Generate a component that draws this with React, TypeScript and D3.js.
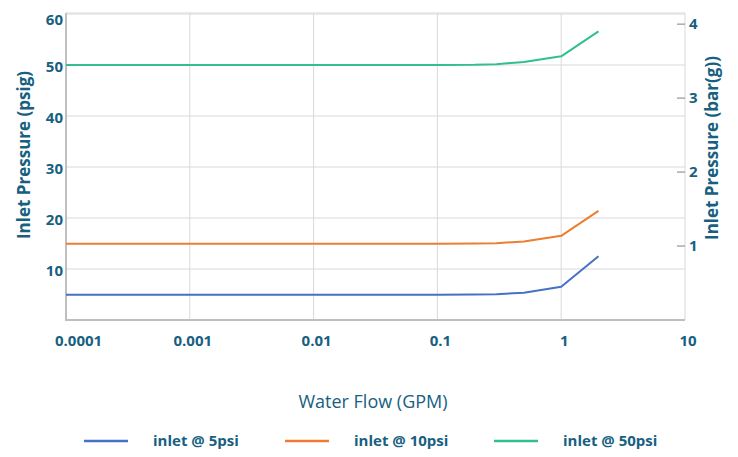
import * as d3 from "d3";

const flows = [0.0001, 0.001, 0.01, 0.1, 0.2, 0.3, 0.5, 1, 2];
const inlet5 = [4.95, 4.95, 4.95, 4.95, 4.98, 5.05, 5.35, 6.5, 12.5];
const inlet10 = [14.95, 14.95, 14.95, 14.95, 14.98, 15.05, 15.4, 16.5, 21.4];
const inlet50 = [50.0, 50.0, 50.0, 50.0, 50.03, 50.15, 50.6, 51.7, 56.6];

const seriesNames = ["inlet @ 5psi", "inlet @ 10psi", "inlet @ 50psi"];
const seriesColors = ["#4472C4", "#ED7D31", "#33BF8C"];
const xTicks = [0.0001, 0.001, 0.01, 0.1, 1, 10];
const xTickLabels = ["0.0001", "0.001", "0.01", "0.1", "1", "10"];
const psiTicks = [10, 20, 30, 40, 50, 60];
const barTicks = [1, 2, 3, 4];
const PSI_PER_BAR = 14.5038;

const textColor = "#17607f";
const font = "'Open Sans', Lato, sans-serif";

function App() {
  const width = 738;
  const height = 457;
  const left = 66, right = 685, top = 13, bottom = 320;

  const x = d3.scaleLog().domain([0.0001, 10]).range([left, right]);
  const y = d3.scaleLinear().domain([0, 60]).range([bottom, top + 1]);
  const yBar = (b: number) => y(b * PSI_PER_BAR);

  const all = [inlet5, inlet10, inlet50];
  const line = d3
    .line<number>()
    .x((_, i) => x(flows[i]))
    .y((d) => y(d));

  const legendX = [84, 285, 494];

  return (
    <svg width={width} height={height} style={{ position: "absolute", left: 0, top: 0 }}>
      <rect width={width} height={height} fill="white" />
      {/* grid */}
      {psiTicks.map((t) => (
        <line key={"h" + t} x1={left} x2={right} y1={y(t)} y2={y(t)} stroke="#d9d9d9" strokeWidth={1} />
      ))}
      {xTicks.slice(1, -1).map((t) => (
        <line key={"v" + t} x1={x(t)} x2={x(t)} y1={top} y2={bottom} stroke="#d9d9d9" strokeWidth={1} />
      ))}
      <line x1={left} x2={right} y1={top} y2={top} stroke="#d9d9d9" />
      <line x1={right} x2={right} y1={top} y2={bottom} stroke="#d9d9d9" />
      <line x1={left} x2={left} y1={top} y2={bottom + 1} stroke="#bfbfbf" strokeWidth={2} />
      <line x1={left} x2={right} y1={bottom} y2={bottom} stroke="#bfbfbf" strokeWidth={2} />

      {/* series */}
      {all.map((s, i) => (
        <path key={i} d={line(s) ?? ""} fill="none" stroke={seriesColors[i]} strokeWidth={2} strokeLinejoin="round" />
      ))}

      {/* left ticks */}
      {psiTicks.map((t) => (
        <text key={"lt" + t} x={63} y={t === 60 ? y(t) + 6 : y(t) + 2} dy="0.35em" textAnchor="end"
          fill={textColor} fontFamily={font} fontWeight={700} fontSize={15}>
          {t}
        </text>
      ))}
      {/* right ticks */}
      {barTicks.map((b) => (
        <g key={"rt" + b}>
          <line x1={right - 8} x2={right} y1={yBar(b)} y2={yBar(b)} stroke="#808080" strokeWidth={1} />
          <text x={right + 4} y={yBar(b)} dy="0.35em" fill={textColor} fontFamily={font} fontWeight={700} fontSize={15}>
            {b}
          </text>
        </g>
      ))}
      {/* x ticks */}
      {xTicks.map((t, i) => (
        <text key={"xt" + t} x={i === 0 ? 55 : x(t) + 3} y={341} dy="0.35em" textAnchor={i === 0 ? "start" : "middle"}
          fill={textColor} fontFamily={font} fontWeight={700} fontSize={15}>
          {xTickLabels[i]}
        </text>
      ))}

      {/* axis titles */}
      <text transform="translate(24,155) rotate(-90)" textAnchor="middle" dy="0.35em"
        fill={textColor} fontFamily={font} fontWeight={700} fontSize={17}>
        Inlet Pressure (psig)
      </text>
      <text transform="translate(712,148) rotate(-90)" textAnchor="middle" dy="0.35em"
        fill={textColor} fontFamily={font} fontWeight={700} fontSize={17}>
        Inlet Pressure (bar(g))
      </text>
      <text x={373} y={402} textAnchor="middle" dy="0.35em" fill={textColor} fontFamily={font} fontSize={18}>
        Water Flow (GPM)
      </text>

      {/* legend */}
      {seriesNames.map((n, i) => (
        <g key={n}>
          <line x1={legendX[i]} x2={legendX[i] + 44} y1={441} y2={441} stroke={seriesColors[i]} strokeWidth={2.5} />
          <text x={legendX[i] + 69} y={441} dy="0.35em" fill={textColor} fontFamily={font} fontWeight={700} fontSize={15}>
            {n}
          </text>
        </g>
      ))}
    </svg>
  );
}

export default App;
